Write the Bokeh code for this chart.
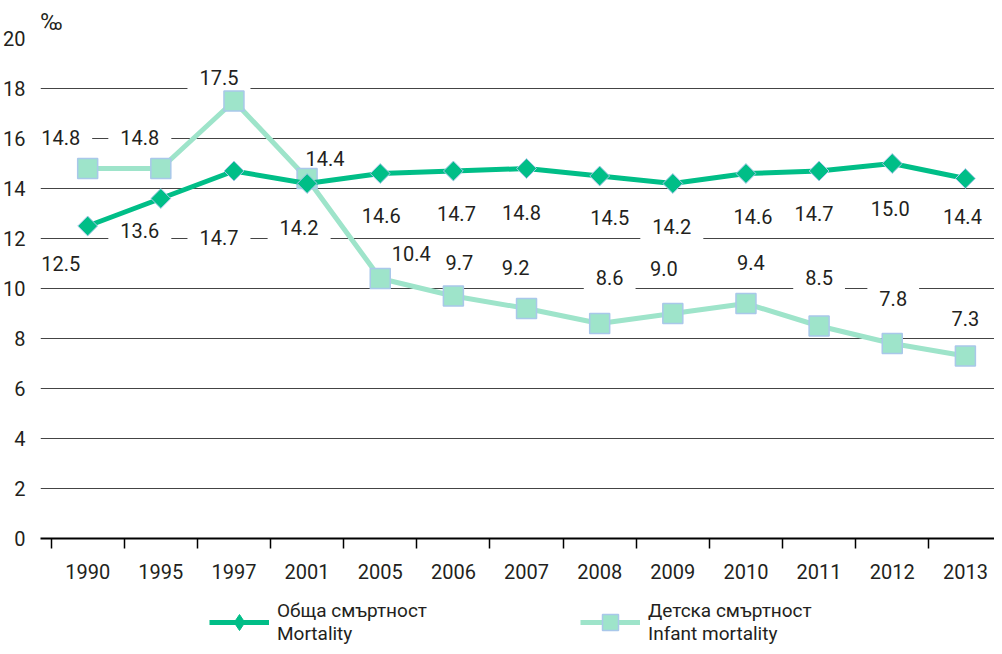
from bokeh.plotting import figure
from bokeh.layouts import column
from bokeh.models import Range1d, FixedTicker, ColumnDataSource, Legend, LegendItem
from bokeh.core.properties import value
from bokeh.embed import file_html
from bokeh.resources import INLINE

# ---- data ----
years = ["1990", "1995", "1997", "2001", "2005", "2006", "2007",
         "2008", "2009", "2010", "2011", "2012", "2013"]
mortality = [12.5, 13.6, 14.7, 14.2, 14.6, 14.7, 14.8, 14.5, 14.2, 14.6, 14.7, 15.0, 14.4]
infant = [14.8, 14.8, 17.5, 14.4, 10.4, 9.7, 9.2, 8.6, 9.0, 9.4, 8.5, 7.8, 7.3]
y_ticks = [0, 2, 4, 6, 8, 10, 12, 14, 16, 18, 20]
mortality_name = "Обща смъртност\nMortality"
infant_name = "Детска смъртност\nInfant mortality"
unit_label = "‰"

# ---- label placement (pixel offsets from the points) ----
inf_dx = [-27, -21, -15, 18, 31, 6, -11, 10, -9, 5, 0, 1, 0]
inf_dy = [-31, -31, -24, -20, -25, -34, -41, -46, -45, -41, -49, -45, -38]
mor_dx = [-27, -21, -15, -8, 1, 3, -5, 10, -1, 7, -5, -2, -3]
mor_dy = [37, 32, 66, 44, 42, 42, 44, 41, 43, 43, 42, 45, 38]

FONT = "Roboto"
TXT = "#231f20"
C_MOR = "#00BE87"
C_INF = "#9EE4CA"
C_EDGE = "#A9C8EA"

xs = list(range(len(years)))
src = ColumnDataSource(dict(
    x=xs, mor=mortality, inf=infant,
    mor_t=[f"{v:.1f}" for v in mortality], inf_t=[f"{v:.1f}" for v in infant],
    inf_dx=inf_dx, inf_dy=inf_dy, mor_dx=mor_dx, mor_dy=mor_dy,
))

p = figure(width=994, height=590, output_backend="svg", toolbar_location=None,
           x_range=Range1d(-0.645, 12.398), y_range=Range1d(0, 20),
           min_border_left=34, min_border_right=0, min_border_top=38, min_border_bottom=52,
           title=unit_label)
p.outline_line_color = None
p.background_fill_color = "white"
p.border_fill_color = "white"

p.title.text_font = FONT
p.title.text_font_size = "23px"
p.title.text_font_style = "normal"
p.title.text_color = TXT
p.title.align = "left"
p.title.offset = 0
p.title.standoff = 6

# axes
p.xaxis.ticker = FixedTicker(ticks=xs, minor_ticks=[i - 0.5 for i in range(len(years) + 1)])
p.xaxis.major_label_overrides = {i: y for i, y in enumerate(years)}
p.xaxis.major_tick_line_color = None
p.xaxis.minor_tick_line_color = "black"
p.xaxis.minor_tick_line_width = 1.5
p.xaxis.minor_tick_in = 0
p.xaxis.minor_tick_out = 10
p.xaxis.axis_line_color = "black"
p.xaxis.axis_line_width = 2
p.xaxis.major_label_standoff = 15
p.xaxis.major_label_text_font = FONT
p.xaxis.major_label_text_font_size = "20px"
p.xaxis.major_label_text_color = TXT

p.yaxis.ticker = FixedTicker(ticks=y_ticks)
p.yaxis.axis_line_color = None
p.yaxis.major_tick_line_color = None
p.yaxis.minor_tick_line_color = None
p.yaxis.major_label_standoff = 9
p.yaxis.major_label_text_font = FONT
p.yaxis.major_label_text_font_size = "20px"
p.yaxis.major_label_text_color = TXT

p.xgrid.grid_line_color = None
p.ygrid.grid_line_color = "#444444"
p.ygrid.grid_line_width = 1

# data labels with white boxes (under lines)
common = dict(text_font=value(FONT), text_font_size="20px", text_color=TXT,
              text_align="center", text_baseline="middle",
              background_fill_color="white", padding=dict(x=12, y=7))
p.text(x="x", y="inf", text="inf_t", x_offset="inf_dx", y_offset="inf_dy", source=src, **common)
p.text(x="x", y="mor", text="mor_t", x_offset="mor_dx", y_offset="mor_dy", source=src, **common)

# series
p.line("x", "inf", source=src, line_color=C_INF, line_width=5)
p.scatter("x", "inf", source=src, marker="square", size=20,
          fill_color=C_INF, line_color=C_EDGE, line_width=1.5)
p.line("x", "mor", source=src, line_color=C_MOR, line_width=5)
p.scatter("x", "mor", source=src, marker="square", angle=0.785398, size=14,
          fill_color=C_MOR, line_color=C_EDGE, line_width=1)

# ---- legend strip (same series, drawn outside this strip's visible range) ----
q = figure(width=994, height=56, output_backend="svg", toolbar_location=None,
           x_range=Range1d(0, 1), y_range=Range1d(0, 1),
           x_axis_type=None, y_axis_type=None,
           min_border_left=0, min_border_right=0, min_border_top=0, min_border_bottom=0)
q.outline_line_color = None
q.xgrid.visible = False
q.ygrid.visible = False
lm = q.line("x", "mor", source=src, line_color=C_MOR, line_width=5)
sm = q.scatter("x", "mor", source=src, marker="diamond", size=18,
               fill_color=C_MOR, line_color=C_MOR, line_width=1)
li = q.line("x", "inf", source=src, line_color=C_INF, line_width=5)
si = q.scatter("x", "inf", source=src, marker="square", size=16,
               fill_color=C_INF, line_color=C_EDGE, line_width=1.5)


def make_legend(name, rends, loc):
    return Legend(items=[LegendItem(label=name, renderers=rends)], location=loc,
                  orientation="horizontal", padding=0, margin=0, spacing=0,
                  border_line_color=None, background_fill_alpha=0,
                  glyph_width=60, glyph_height=40, label_standoff=8,
                  label_text_font=FONT, label_text_font_size="19px",
                  label_text_color=TXT, label_text_line_height=1.1)


q.add_layout(make_legend(mortality_name, [lm, sm], (169, 1)))
q.add_layout(make_legend(infant_name, [li, si], (540, 1)))

layout = column(p, q, spacing=0)
open("out.html", "w").write(file_html(layout, INLINE))
